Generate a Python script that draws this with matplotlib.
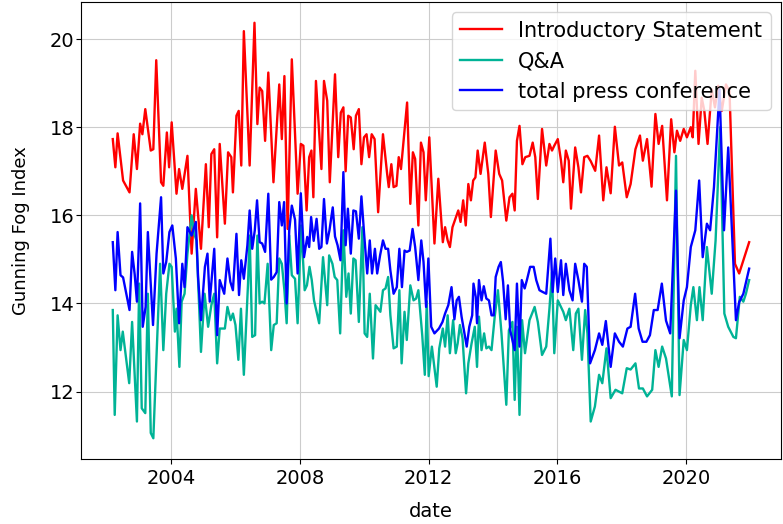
import matplotlib
matplotlib.use("Agg")
import matplotlib.pyplot as plt
import matplotlib.dates as mdates
from datetime import datetime, timedelta

# Gunning Fog Index per ECB press conference
intro_years = [2002.19, 2002.27, 2002.34, 2002.51, 2002.71, 2002.84, 2002.94, 2003.04, 2003.11, 2003.20,
               2003.37, 2003.45, 2003.54, 2003.69, 2003.76, 2003.87, 2003.94, 2004.02, 2004.17, 2004.25,
               2004.35, 2004.51, 2004.64, 2004.77, 2004.93, 2005.08, 2005.17, 2005.25, 2005.34, 2005.43,
               2005.51, 2005.67, 2005.77, 2005.87, 2005.92, 2006.03, 2006.10, 2006.18, 2006.26, 2006.44,
               2006.59, 2006.68, 2006.75, 2006.83, 2006.92, 2007.02, 2007.18, 2007.36, 2007.44, 2007.52,
               2007.62, 2007.75, 2007.93, 2008.03, 2008.11, 2008.21, 2008.29, 2008.36, 2008.42, 2008.50,
               2008.67, 2008.75, 2008.85, 2008.93, 2009.09, 2009.19, 2009.27, 2009.35, 2009.42, 2009.50,
               2009.58, 2009.67, 2009.74, 2009.83, 2009.91, 2009.99, 2010.07, 2010.15, 2010.23, 2010.32,
               2010.43, 2010.58, 2010.71, 2010.76, 2010.84, 2010.91, 2011.00, 2011.07, 2011.14, 2011.33,
               2011.43, 2011.51, 2011.58, 2011.68, 2011.76, 2011.84, 2011.91, 2012.02, 2012.18, 2012.30,
               2012.44, 2012.51, 2012.59, 2012.66, 2012.74, 2012.92, 2012.99, 2013.07, 2013.15, 2013.23,
               2013.31, 2013.38, 2013.45, 2013.52, 2013.61, 2013.74, 2013.85, 2013.93, 2014.08, 2014.19,
               2014.28, 2014.41, 2014.51, 2014.60, 2014.67, 2014.74, 2014.82, 2014.91, 2015.00, 2015.13,
               2015.23, 2015.31, 2015.39, 2015.52, 2015.65, 2015.75, 2015.83, 2015.90, 2016.01, 2016.11,
               2016.18, 2016.26, 2016.35, 2016.42, 2016.55, 2016.65, 2016.73, 2016.83, 2016.93, 2017.03,
               2017.17, 2017.29, 2017.42, 2017.52, 2017.65, 2017.78, 2017.91, 2018.01, 2018.15, 2018.27,
               2018.42, 2018.56, 2018.65, 2018.78, 2018.92, 2019.04, 2019.14, 2019.25, 2019.40, 2019.53,
               2019.63, 2019.71, 2019.81, 2019.92, 2020.02, 2020.14, 2020.20, 2020.28, 2020.38, 2020.48,
               2020.56, 2020.66, 2020.79, 2020.89, 2020.99, 2021.10, 2021.23, 2021.34, 2021.51, 2021.64,
               2021.95]
intro_vals = [17.73, 17.09, 17.86, 16.79, 16.52, 17.84, 17.05, 18.08, 17.84, 18.41,
              17.47, 17.50, 19.52, 16.75, 16.67, 17.88, 17.09, 18.11, 16.49, 17.05,
              16.60, 17.35, 15.13, 16.60, 15.24, 17.16, 15.73, 17.39, 17.50, 15.50,
              17.62, 15.81, 17.43, 17.32, 16.52, 18.26, 18.37, 17.13, 20.18, 17.13,
              20.37, 18.07, 18.90, 18.82, 17.69, 19.24, 16.75, 18.97, 17.73, 19.16,
              15.69, 19.54, 16.49, 17.62, 17.58, 16.11, 17.32, 17.47, 16.41, 19.05,
              17.05, 19.05, 18.60, 16.75, 19.20, 17.32, 18.33, 18.45, 17.00, 18.26,
              18.22, 17.50, 18.26, 18.41, 17.16, 17.77, 17.84, 17.32, 17.84, 17.73,
              16.07, 17.84, 16.94, 16.64, 17.16, 16.64, 16.67, 17.32, 17.05, 18.56,
              16.26, 17.43, 17.28, 15.77, 17.65, 17.43, 16.34, 17.77, 15.36, 16.83,
              15.39, 15.73, 15.43, 15.28, 15.73, 16.11, 15.85, 16.34, 15.77, 16.71,
              16.34, 16.79, 16.86, 17.47, 16.94, 17.65, 16.94, 15.96, 17.47, 16.94,
              16.79, 15.88, 16.41, 16.49, 16.11, 17.69, 18.03, 17.16, 17.32, 17.35,
              17.65, 17.32, 16.37, 17.96, 17.13, 17.62, 17.47, 17.58, 17.73, 17.24,
              16.75, 17.47, 17.24, 16.15, 17.54, 17.09, 16.52, 17.32, 17.35, 17.23,
              17.01, 17.81, 16.34, 17.09, 16.50, 18.01, 17.13, 17.20, 16.41, 16.71,
              17.50, 17.81, 17.24, 17.73, 16.65, 18.30, 17.62, 18.03, 16.34, 18.18,
              17.43, 17.92, 17.69, 17.96, 17.77, 18.00, 17.77, 19.28, 17.62, 18.67,
              18.37, 17.62, 18.86, 18.45, 18.94, 18.37, 18.97, 18.82, 14.90, 14.68,
              15.39]

qa_years = [2002.19, 2002.25, 2002.34, 2002.43, 2002.50, 2002.70, 2002.79, 2002.94, 2003.01, 2003.09,
            2003.20, 2003.28, 2003.37, 2003.45, 2003.66, 2003.76, 2003.85, 2003.95, 2004.02, 2004.12,
            2004.17, 2004.26, 2004.33, 2004.42, 2004.51, 2004.64, 2004.72, 2004.79, 2004.93, 2005.04,
            2005.15, 2005.25, 2005.34, 2005.43, 2005.51, 2005.67, 2005.75, 2005.85, 2005.92, 2006.00,
            2006.09, 2006.17, 2006.26, 2006.39, 2006.44, 2006.52, 2006.61, 2006.68, 2006.75, 2006.83,
            2006.90, 2007.00, 2007.11, 2007.19, 2007.28, 2007.36, 2007.44, 2007.52, 2007.59, 2007.67,
            2007.75, 2007.85, 2007.93, 2008.04, 2008.15, 2008.22, 2008.30, 2008.37, 2008.44, 2008.60,
            2008.72, 2008.85, 2008.91, 2009.01, 2009.08, 2009.16, 2009.25, 2009.35, 2009.44, 2009.51,
            2009.58, 2009.66, 2009.73, 2009.83, 2009.94, 2010.01, 2010.09, 2010.17, 2010.27, 2010.35,
            2010.50, 2010.58, 2010.66, 2010.74, 2010.81, 2010.91, 2011.01, 2011.09, 2011.16, 2011.25,
            2011.32, 2011.43, 2011.53, 2011.61, 2011.68, 2011.80, 2011.88, 2011.94, 2012.00, 2012.10,
            2012.25, 2012.33, 2012.44, 2012.51, 2012.59, 2012.66, 2012.76, 2012.84, 2012.90, 2012.97,
            2013.05, 2013.16, 2013.23, 2013.33, 2013.43, 2013.50, 2013.56, 2013.64, 2013.72, 2013.79,
            2013.87, 2013.95, 2014.05, 2014.15, 2014.26, 2014.41, 2014.49, 2014.60, 2014.67, 2014.74,
            2014.82, 2014.90, 2014.99, 2015.13, 2015.29, 2015.39, 2015.52, 2015.65, 2015.75, 2015.83,
            2015.90, 2016.01, 2016.18, 2016.26, 2016.37, 2016.49, 2016.57, 2016.65, 2016.76, 2016.86,
            2016.93, 2017.03, 2017.16, 2017.29, 2017.39, 2017.52, 2017.65, 2017.80, 2018.01, 2018.15,
            2018.27, 2018.42, 2018.53, 2018.65, 2018.78, 2018.94, 2019.04, 2019.14, 2019.25, 2019.37,
            2019.55, 2019.68, 2019.79, 2019.92, 2020.02, 2020.14, 2020.22, 2020.33, 2020.41, 2020.51,
            2020.64, 2020.79, 2020.91, 2021.05, 2021.18, 2021.30, 2021.46, 2021.54, 2021.66, 2021.77,
            2021.85, 2021.95]
qa_vals = [13.85, 11.47, 13.73, 12.94, 13.36, 12.19, 13.58, 11.32, 14.45, 11.62,
           11.51, 14.22, 11.06, 10.94, 14.90, 12.94, 14.22, 14.90, 14.83, 13.36,
           13.88, 12.56, 14.04, 14.22, 15.13, 16.00, 15.58, 15.43, 12.90, 14.22,
           13.47, 13.96, 14.22, 12.64, 13.43, 13.43, 13.92, 13.62, 13.77, 13.51,
           12.72, 13.88, 12.38, 14.45, 15.54, 13.24, 13.28, 15.54, 14.00, 14.04,
           14.00, 14.90, 12.94, 13.51, 13.55, 15.02, 14.90, 14.30, 13.55, 15.54,
           14.64, 14.56, 13.55, 15.77, 14.30, 14.41, 14.83, 14.53, 14.07, 13.55,
           15.05, 13.96, 15.09, 14.90, 14.60, 14.53, 13.32, 15.66, 14.15, 14.68,
           13.77, 15.02, 14.98, 13.58, 15.73, 13.32, 13.24, 14.22, 12.75, 13.96,
           13.81, 14.30, 14.34, 14.60, 13.73, 12.98, 13.02, 14.30, 12.64, 13.81,
           13.17, 14.41, 14.07, 14.11, 14.30, 13.28, 12.38, 14.05, 12.35, 13.02,
           12.11, 12.98, 13.43, 13.02, 13.73, 12.87, 13.62, 12.87, 13.09, 13.51,
           13.21, 11.96, 12.64, 13.09, 13.47, 12.56, 13.70, 12.94, 13.32, 12.98,
           13.02, 12.94, 13.70, 14.30, 13.32, 11.70, 13.39, 13.58, 11.81, 13.47,
           11.47, 13.62, 12.87, 13.62, 13.92, 13.58, 12.83, 13.02, 13.88, 14.71,
           12.87, 14.07, 13.81, 13.62, 13.88, 12.94, 13.77, 13.88, 12.72, 13.85,
           13.32, 11.32, 11.66, 12.38, 12.19, 12.98, 11.85, 12.04, 11.96, 12.53,
           12.50, 12.64, 12.07, 12.07, 11.89, 12.04, 12.94, 12.56, 13.02, 12.75,
           11.89, 17.35, 11.92, 13.17, 12.94, 13.96, 14.37, 13.62, 14.37, 13.62,
           15.28, 14.22, 15.43, 18.00, 13.77, 13.47, 13.24, 13.21, 14.15, 14.04,
           14.22, 14.53]

total_years = [2002.19, 2002.27, 2002.34, 2002.43, 2002.51, 2002.61, 2002.71, 2002.79, 2002.87, 2002.94,
               2003.04, 2003.12, 2003.21, 2003.28, 2003.44, 2003.55, 2003.69, 2003.76, 2003.85, 2003.95,
               2004.04, 2004.15, 2004.25, 2004.35, 2004.42, 2004.51, 2004.64, 2004.77, 2004.84, 2004.93,
               2005.05, 2005.13, 2005.20, 2005.34, 2005.43, 2005.51, 2005.65, 2005.75, 2005.84, 2005.92,
               2006.03, 2006.11, 2006.18, 2006.26, 2006.37, 2006.44, 2006.52, 2006.60, 2006.67, 2006.75,
               2006.83, 2006.92, 2007.02, 2007.11, 2007.19, 2007.28, 2007.36, 2007.44, 2007.51, 2007.59,
               2007.67, 2007.75, 2007.85, 2007.93, 2008.03, 2008.13, 2008.23, 2008.29, 2008.35, 2008.43,
               2008.52, 2008.60, 2008.67, 2008.75, 2008.84, 2008.92, 2009.02, 2009.09, 2009.17, 2009.26,
               2009.35, 2009.42, 2009.49, 2009.58, 2009.66, 2009.74, 2009.83, 2009.91, 2009.99, 2010.09,
               2010.17, 2010.24, 2010.33, 2010.40, 2010.49, 2010.58, 2010.66, 2010.74, 2010.81, 2010.91,
               2011.01, 2011.09, 2011.17, 2011.25, 2011.32, 2011.41, 2011.50, 2011.58, 2011.68, 2011.77,
               2011.84, 2011.92, 2011.99, 2012.08, 2012.18, 2012.32, 2012.43, 2012.51, 2012.61, 2012.71,
               2012.80, 2012.87, 2012.94, 2013.02, 2013.18, 2013.26, 2013.35, 2013.39, 2013.46, 2013.50,
               2013.56, 2013.64, 2013.71, 2013.79, 2013.87, 2013.95, 2014.02, 2014.08, 2014.17, 2014.24,
               2014.31, 2014.39, 2014.46, 2014.53, 2014.67, 2014.74, 2014.82, 2014.89, 2014.98, 2015.05,
               2015.15, 2015.26, 2015.34, 2015.44, 2015.54, 2015.65, 2015.78, 2015.85, 2015.93, 2016.01,
               2016.11, 2016.18, 2016.26, 2016.37, 2016.47, 2016.55, 2016.65, 2016.76, 2016.83, 2016.91,
               2017.01, 2017.16, 2017.29, 2017.39, 2017.50, 2017.65, 2017.78, 2017.91, 2018.03, 2018.17,
               2018.27, 2018.41, 2018.52, 2018.64, 2018.76, 2018.87, 2018.99, 2019.11, 2019.24, 2019.37,
               2019.50, 2019.68, 2019.79, 2019.92, 2020.02, 2020.14, 2020.28, 2020.40, 2020.51, 2020.64,
               2020.74, 2020.86, 2021.03, 2021.17, 2021.30, 2021.54, 2021.64, 2021.77, 2021.95]
total_vals = [15.39, 14.30, 15.62, 14.64, 14.59, 14.22, 13.85, 15.17, 14.66, 14.04,
              16.27, 13.47, 13.92, 15.62, 13.51, 15.13, 16.41, 14.68, 14.94, 15.62,
              15.77, 15.02, 13.55, 14.90, 14.37, 15.73, 15.54, 15.85, 14.60, 13.62,
              14.83, 15.13, 14.04, 15.24, 13.28, 14.53, 14.22, 15.02, 14.49, 14.30,
              15.58, 14.19, 14.98, 14.56, 15.32, 16.11, 15.24, 15.66, 16.34, 15.39,
              15.36, 15.17, 16.49, 14.54, 14.60, 14.71, 16.30, 15.77, 16.30, 14.00,
              15.66, 16.22, 15.90, 14.68, 16.50, 15.05, 15.51, 15.28, 15.96, 15.42,
              15.92, 15.24, 15.28, 16.37, 15.36, 15.66, 16.18, 15.52, 15.32, 14.98,
              16.98, 15.32, 16.15, 15.13, 16.11, 16.09, 15.47, 16.43, 15.62, 14.68,
              15.43, 14.68, 15.24, 14.68, 15.09, 15.43, 15.24, 15.24, 14.75, 14.22,
              14.37, 15.24, 14.37, 15.20, 15.17, 15.20, 15.69, 15.28, 14.53, 15.43,
              14.94, 13.92, 15.02, 13.47, 13.32, 13.43, 13.58, 13.77, 13.96, 14.37,
              13.64, 14.07, 14.15, 13.70, 13.02, 13.47, 13.73, 14.45, 14.15, 13.55,
              14.53, 14.07, 14.39, 14.11, 14.07, 13.73, 13.73, 14.60, 14.83, 14.94,
              14.49, 13.64, 14.41, 13.39, 12.94, 14.45, 13.02, 14.53, 14.34, 14.53,
              14.83, 14.83, 14.53, 14.30, 14.26, 14.22, 15.47, 14.26, 15.02, 14.26,
              14.98, 14.19, 14.90, 14.30, 14.07, 14.90, 14.53, 14.04, 14.90, 14.83,
              12.64, 12.94, 13.32, 13.06, 13.60, 12.56, 13.32, 13.13, 13.02, 13.43,
              13.47, 14.22, 13.43, 13.13, 13.13, 13.28, 13.85, 13.85, 14.45, 13.61,
              13.32, 16.56, 13.21, 14.07, 14.37, 15.28, 15.66, 16.79, 15.05, 15.81,
              15.66, 16.64, 18.86, 15.66, 17.54, 13.62, 14.03, 14.22, 14.79]


def to_dates(years):
    return [datetime(int(y), 1, 1) + timedelta(days=(y - int(y)) * 365.25) for y in years]


fig, ax = plt.subplots(figsize=(7.83, 5.24), dpi=100)
fig.subplots_adjust(left=0.1034, right=0.9974, top=0.9962, bottom=0.124)

ax.plot(to_dates(intro_years), intro_vals, color='#ff0000', lw=1.7, label='Introductory Statement')
ax.plot(to_dates(qa_years), qa_vals, color='#00b396', lw=1.7, label='Q&A')
ax.plot(to_dates(total_years), total_vals, color='#0000ff', lw=1.7, label='total press conference')

ax.xaxis.set_major_locator(mdates.YearLocator(4))
ax.xaxis.set_major_formatter(mdates.DateFormatter('%Y'))
ax.grid(True, color='#cccccc', lw=0.8)
ax.tick_params(axis='x', labelsize=14)
ax.tick_params(axis='y', labelsize=14, pad=1)

ax.set_xlabel('date', fontsize=14)
ax.set_ylabel('Gunning Fog Index', fontsize=13)
ax.xaxis.set_label_coords(0.5, -0.094)
ax.yaxis.set_label_coords(-0.073, 0.5)
ax.legend(loc='upper right', fontsize=15)

plt.savefig('out.png', dpi=100)
